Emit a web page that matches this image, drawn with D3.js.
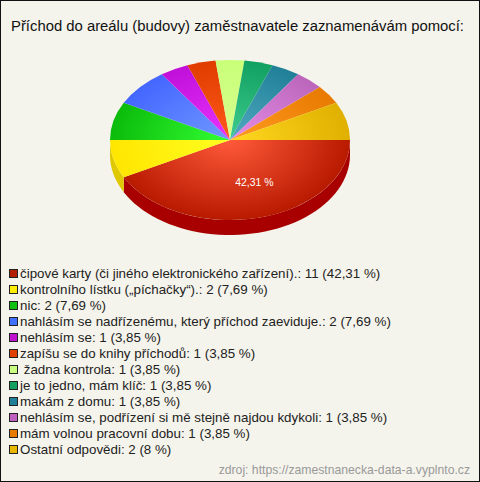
<!DOCTYPE html>
<html><head><meta charset="utf-8">
<script src="https://cdnjs.cloudflare.com/ajax/libs/d3/7.8.5/d3.min.js"></script>
<style>html,body{margin:0;padding:0;background:#f5f4ec}svg{display:block}text{font-family:"Liberation Sans",Arial,sans-serif}</style>
</head><body><svg id="c" width="480" height="482"></svg>
<script>
const titleText = "Příchod do areálu (budovy) zaměstnavatele zaznamenávám pomocí:";
const sourceText = "zdroj: https://zamestnanecka-data-a.vyplnto.cz";
const categories = ["čipové karty (či jiného elektronického zařízení).","kontrolního lístku („píchačky“).","nic","nahlásím se nadřízenému, který příchod zaeviduje.","nehlásím se","zapíšu se do knihy příchodů"," žadna kontrola","je to jedno, mám klíč","makám z domu","nehlásím se, podřízení si mě stejně najdou kdykoli","mám volnou pracovní dobu","Ostatní odpovědi"];
const values = [11,2,2,2,1,1,1,1,1,1,1,2];
const percentLabels = ["42,31 %","7,69 %","7,69 %","7,69 %","3,85 %","3,85 %","3,85 %","3,85 %","3,85 %","3,85 %","3,85 %","8 %"];
const swatchColors = ["#b22000","#ffee00","#10c010","#4070ff","#c010d0","#e04000","#c8ff80","#10a060","#207f99","#c060c0","#e87a00","#e8b800"];
const innerColors = ["#ff5a3a","#ffff20","#33ff33","#7099ff","#e833ff","#ff5a1a","#d8ff90","#40cc90","#50aac0","#e68ce6","#ff9c20","#ffd820"];
const outerColors = ["#b81a00","#ffe600","#0bbb0b","#4466ff","#c010d8","#e03c00","#c8ff78","#10a060","#208098","#bb66bb","#e87a00","#e0b000"];
const sideColors = ["#a80000","#e0c800","#0a9a0a","#3355cc","#9a0aaa","#b83000","#a0cc60","#0c8050","#186678","#9a509a","#c06000","#c09000"];

const W=480,H=482,cx=230,cy=140,rx=120,ry=80,depth=15,k=ry/rx;
const svg=d3.select("#c");
const defs=svg.append("defs");
svg.append("rect").attr("x",.5).attr("y",.5).attr("width",W-1).attr("height",H-1).attr("fill","#f5f4ec").attr("stroke","#111");
svg.append("text").attr("x",11).attr("y",31).attr("font-size",14.85).attr("fill","#111").text(titleText);

const pie=d3.pie().sort(null).startAngle(Math.PI/2).endAngle(Math.PI*2.5)(values);
const arc=d3.arc().innerRadius(0).outerRadius(rx);
values.forEach((v,i)=>{
  const g=defs.append("radialGradient").attr("id","g"+i).attr("gradientUnits","userSpaceOnUse").attr("cx",0).attr("cy",0).attr("r",rx);
  g.append("stop").attr("offset",0).attr("stop-color",innerColors[i]);
  g.append("stop").attr("offset",1).attr("stop-color",outerColors[i]);
});
const sx=a=>rx*Math.sin(a), sy=a=>-ry*Math.cos(a);
const wall=svg.append("g").attr("transform",`translate(${cx},${cy})`);
pie.forEach((d,i)=>{
  const a0=Math.max(d.startAngle,Math.PI/2),a1=Math.min(d.endAngle,Math.PI*1.5);
  if(a1<=a0)return;
  const p=d3.path();
  const n=48,pts=d3.range(n+1).map(j=>a0+(a1-a0)*j/n);
  pts.forEach((a,j)=>j?p.lineTo(sx(a),sy(a)):p.moveTo(sx(a),sy(a)));
  pts.slice().reverse().forEach(a=>p.lineTo(sx(a),sy(a)+depth));
  p.closePath();
  wall.append("path").attr("d",p.toString()).attr("fill",sideColors[i]);
});
const lid=svg.append("g").attr("transform",`translate(${cx},${cy}) scale(1,${k})`);
lid.selectAll("path").data(pie).join("path").attr("d",arc).attr("fill",(d,i)=>`url(#g${i})`);
const c0=arc.centroid(pie[0]);
svg.append("text").attr("x",cx+c0[0]+10).attr("y",cy+c0[1]*k+7).attr("text-anchor","middle").attr("font-size",10.4).attr("fill","#fff").text(percentLabels[0]);

const yScale=d3.scalePoint().domain(d3.range(values.length)).range([273,449]);
const leg=svg.append("g").selectAll("g").data(values).join("g").attr("transform",(d,i)=>`translate(0,${yScale(i)})`);
leg.append("rect").attr("x",9.5).attr("y",-3.5).attr("width",8).attr("height",8).attr("fill",(d,i)=>swatchColors[i]).attr("stroke","#222");
leg.append("text").attr("x",20).attr("y",5).attr("font-size",13.35).attr("fill","#222").style("white-space","pre")
 .text((d,i)=>`${categories[i]}: ${d} (${percentLabels[i]})`);
svg.append("text").attr("x",470).attr("y",474).attr("text-anchor","end").attr("font-size",12.2).attr("fill","#999").text(sourceText);
</script></body></html>
